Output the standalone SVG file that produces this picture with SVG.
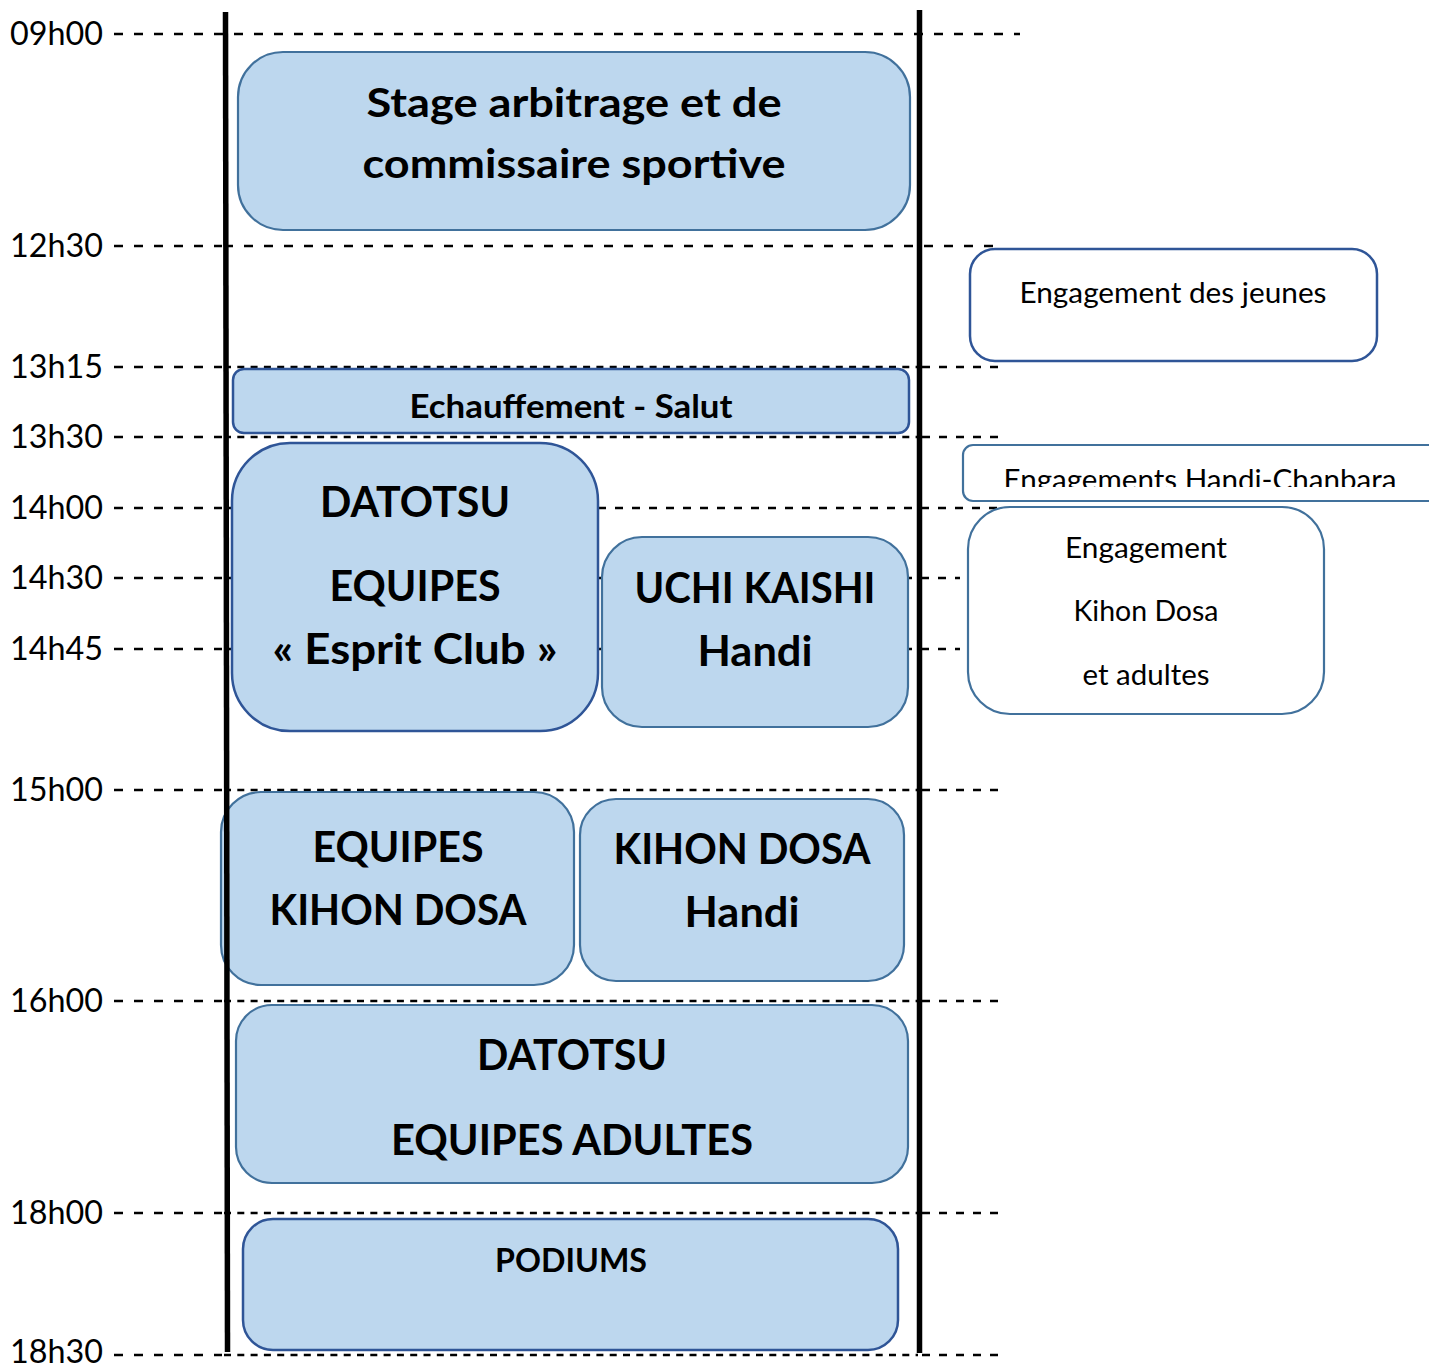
<svg xmlns="http://www.w3.org/2000/svg" width="1429" height="1366" viewBox="0 0 1429 1366">
<style>
.lbl{font-family:Lato,"Liberation Sans",sans-serif;font-size:32px;fill:#000}
.d{stroke:#000;stroke-width:2.5;fill:none}
.dl{stroke-dasharray:9 11}
.dm{stroke-dasharray:7 6.3}
.dk{stroke-dasharray:8 9}
.box{fill:#BDD7EE;stroke:#41719C;stroke-width:2.2}
.boxd{fill:#BDD7EE;stroke:#2F5597;stroke-width:2.5}
.wb{fill:#fff;stroke:#41719C;stroke-width:2.2}
.wbd{fill:#fff;stroke:#2F5597;stroke-width:2.5}
.bt{font-family:Lato,"Liberation Sans",sans-serif;font-weight:bold;fill:#000;text-anchor:middle}
.rt{font-family:Lato,"Liberation Sans",sans-serif;fill:#000;text-anchor:middle;font-size:28px}
</style>
<defs>
<clipPath id="clipHC"><rect x="960" y="440" width="469" height="47"/></clipPath>
</defs>
<rect width="1429" height="1366" fill="#fff"/>

<g id="time-axis">
<text class="lbl" x="10" y="45" textLength="93" lengthAdjust="spacingAndGlyphs">09h00</text>
<text class="lbl" x="10" y="257" textLength="93" lengthAdjust="spacingAndGlyphs">12h30</text>
<text class="lbl" x="10" y="378" textLength="93" lengthAdjust="spacingAndGlyphs">13h15</text>
<text class="lbl" x="10" y="448" textLength="93" lengthAdjust="spacingAndGlyphs">13h30</text>
<text class="lbl" x="10" y="519" textLength="93" lengthAdjust="spacingAndGlyphs">14h00</text>
<text class="lbl" x="10" y="589" textLength="93" lengthAdjust="spacingAndGlyphs">14h30</text>
<text class="lbl" x="10" y="660" textLength="93" lengthAdjust="spacingAndGlyphs">14h45</text>
<text class="lbl" x="10" y="801" textLength="93" lengthAdjust="spacingAndGlyphs">15h00</text>
<text class="lbl" x="10" y="1012" textLength="93" lengthAdjust="spacingAndGlyphs">16h00</text>
<text class="lbl" x="10" y="1224" textLength="93" lengthAdjust="spacingAndGlyphs">18h00</text>
<text class="lbl" x="10" y="1363" textLength="93" lengthAdjust="spacingAndGlyphs">18h30</text>
</g>

<g id="connectors">
<line class="d dl" x1="114" y1="34" x2="1020" y2="34"/>
<line class="d dl" x1="114" y1="246" x2="222" y2="246"/>
<line class="d dl" x1="224" y1="246" x2="1000" y2="246"/>
<line class="d dl" x1="114" y1="367" x2="222" y2="367"/>
<line class="d dm" x1="224" y1="367" x2="918" y2="367"/>
<line class="d dk" x1="922" y1="367" x2="1000" y2="367"/>
<line class="d dl" x1="114" y1="437" x2="222" y2="437"/>
<line class="d dm" x1="224" y1="437" x2="918" y2="437"/>
<line class="d dk" x1="922" y1="437" x2="1000" y2="437"/>
<line class="d dl" x1="114" y1="508" x2="222" y2="508"/>
<line class="d dk" x1="224" y1="508" x2="1000" y2="508"/>
<line class="d dl" x1="114" y1="578" x2="222" y2="578"/>
<line class="d dk" x1="224" y1="578" x2="960" y2="578"/>
<line class="d dl" x1="114" y1="649" x2="222" y2="649"/>
<line class="d dk" x1="224" y1="649" x2="960" y2="649"/>
<line class="d dl" x1="114" y1="790" x2="222" y2="790"/>
<line class="d dm" x1="224" y1="790" x2="918" y2="790"/>
<line class="d dk" x1="922" y1="790" x2="1000" y2="790"/>
<line class="d dl" x1="114" y1="1001" x2="222" y2="1001"/>
<line class="d dm" x1="224" y1="1001" x2="918" y2="1001"/>
<line class="d dk" x1="922" y1="1001" x2="1000" y2="1001"/>
<line class="d dl" x1="114" y1="1213" x2="222" y2="1213"/>
<line class="d dm" x1="224" y1="1213" x2="918" y2="1213"/>
<line class="d dk" x1="922" y1="1213" x2="1000" y2="1213"/>
<line class="d dl" x1="114" y1="1355" x2="222" y2="1355"/>
<line class="d dm" x1="224" y1="1355" x2="918" y2="1355"/>
<line class="d dk" x1="922" y1="1355" x2="1000" y2="1355"/>
</g>

<g id="stage">
<rect class="box" x="238" y="52" width="672" height="178" rx="45"/>
<text class="bt" x="574" y="117" font-size="41" textLength="415" lengthAdjust="spacingAndGlyphs">Stage arbitrage et de</text>
<text class="bt" x="574" y="178" font-size="41" textLength="423" lengthAdjust="spacingAndGlyphs">commissaire sportive</text>
</g>

<g id="engagement-jeunes">
<rect class="wbd" x="970" y="249" width="407" height="112" rx="25"/>
<text class="rt" x="1173" y="303" textLength="307" lengthAdjust="spacingAndGlyphs">Engagement des jeunes</text>
</g>

<g id="echauffement">
<rect class="boxd" x="233" y="369" width="676" height="64" rx="11"/>
<text class="bt" x="571" y="418" font-size="33" textLength="323" lengthAdjust="spacingAndGlyphs">Echauffement - Salut</text>
</g>

<g id="engagements-handi">
<rect class="wb" x="963" y="445" width="480" height="56" rx="10"/>
<text class="rt" x="1200" y="490" clip-path="url(#clipHC)" textLength="393" lengthAdjust="spacingAndGlyphs">Engagements Handi-Chanbara</text>
</g>

<g id="engagement-kihon">
<rect class="wb" x="968" y="507" width="356" height="207" rx="42"/>
<text class="rt" x="1146" y="558" textLength="162" lengthAdjust="spacingAndGlyphs">Engagement</text>
<text class="rt" x="1146" y="621" textLength="145" lengthAdjust="spacingAndGlyphs">Kihon Dosa</text>
<text class="rt" x="1146" y="685" textLength="127" lengthAdjust="spacingAndGlyphs">et adultes</text>
</g>

<g id="datotsu-esprit">
<rect class="boxd" x="232" y="443" width="366" height="288" rx="58"/>
<text class="bt" x="415" y="517" font-size="42" textLength="190" lengthAdjust="spacingAndGlyphs">DATOTSU</text>
<text class="bt" x="415" y="601" font-size="42" textLength="171" lengthAdjust="spacingAndGlyphs">EQUIPES</text>
<text class="bt" x="415" y="664" font-size="42" textLength="285" lengthAdjust="spacingAndGlyphs">« Esprit Club »</text>
</g>

<g id="uchi-kaishi">
<rect class="box" x="602" y="537" width="306" height="190" rx="40"/>
<text class="bt" x="755" y="603" font-size="42" textLength="241" lengthAdjust="spacingAndGlyphs">UCHI KAISHI</text>
<text class="bt" x="755" y="666" font-size="42" textLength="115" lengthAdjust="spacingAndGlyphs">Handi</text>
</g>

<g id="equipes-kihon">
<rect class="box" x="221" y="792" width="353" height="193" rx="40"/>
<text class="bt" x="398" y="862" font-size="42" textLength="171" lengthAdjust="spacingAndGlyphs">EQUIPES</text>
<text class="bt" x="398" y="925" font-size="42" textLength="257" lengthAdjust="spacingAndGlyphs">KIHON DOSA</text>
</g>

<g id="kihon-handi">
<rect class="box" x="580" y="799" width="324" height="182" rx="36"/>
<text class="bt" x="742" y="864" font-size="42" textLength="257" lengthAdjust="spacingAndGlyphs">KIHON DOSA</text>
<text class="bt" x="742" y="927" font-size="42" textLength="115" lengthAdjust="spacingAndGlyphs">Handi</text>
</g>

<g id="datotsu-adultes">
<rect class="box" x="236" y="1005" width="672" height="178" rx="36"/>
<text class="bt" x="572" y="1070" font-size="42" textLength="190" lengthAdjust="spacingAndGlyphs">DATOTSU</text>
<text class="bt" x="572" y="1155" font-size="42" textLength="362" lengthAdjust="spacingAndGlyphs">EQUIPES ADULTES</text>
</g>

<g id="podiums">
<rect class="boxd" x="243" y="1219" width="655" height="131" rx="30"/>
<text class="bt" x="571" y="1272" font-size="32" textLength="152" lengthAdjust="spacingAndGlyphs">PODIUMS</text>
</g>

<g id="columns">
<line x1="225.5" y1="12" x2="227.5" y2="1352" stroke="#000" stroke-width="5.5"/>
<line x1="919.5" y1="10" x2="919.5" y2="1353" stroke="#000" stroke-width="5.5"/>
</g>
</svg>
